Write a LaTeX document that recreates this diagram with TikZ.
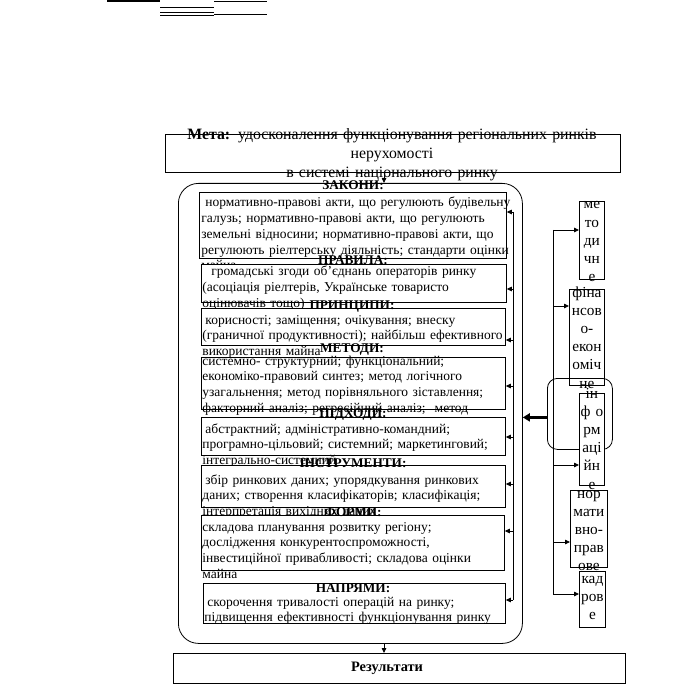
\documentclass[tikz,border=0pt]{standalone}
\usepackage{fontspec}
\setmainfont{Liberation Serif}
\usetikzlibrary{arrows.meta,positioning}

% justified line of fixed width
\newcommand{\jl}[1]{\makebox[\linewidth][s]{#1}}

\begin{document}
\begin{tikzpicture}[x=1pt,y=-1pt,line width=0.8pt,
    every node/.style={inner sep=0pt,font=\fontsize{13.5}{15.7}\selectfont},
    box/.style={draw,fill=white,anchor=north west},
    body/.style={anchor=base west,text width=304pt,align=left},
    head/.style={anchor=base,font=\fontsize{13.3}{15.7}\selectfont\bfseries},
    col/.style={anchor=base,text width=40pt,align=center,font=\fontsize{15.3}{18.2}\selectfont},
    tip/.style={-{Triangle[length=5pt,width=4.5pt]}}]
  \useasboundingbox (0,0) rectangle (683,684);

  % remnants at the top
  \draw[line width=2pt] (107,1) -- (160,1);
  \draw (160,7) -- (214,7);
  \draw (160,12.5) -- (214,12.5);
  \draw (160,15) -- (214,15);
  \draw[line width=1.6pt] (214,1.6) -- (267,1.6);
  \draw (214,14.5) -- (267,14.5);

  \coordinate (axis) at (384,0);

  % goal
  \node[box,minimum width=455pt,minimum height=38pt] (meta) at (165,134) {};
  \node[anchor=base,text width=455pt,align=center,font=\fontsize{15.8}{19}\selectfont] (metaText) at (392,139.5)
    {\textbf{Мета:} удосконалення функціонування регіональних ринків\\ нерухомості\\ в системі національного ринку};

  % big frame
  \node[draw,rounded corners=20pt,anchor=north west,minimum width=344pt,minimum height=460pt] (frame) at (178,183) {};
  \draw[tip] (axis |- meta.south) -- (axis |- frame.north);

  % laws
  \node[box,minimum width=307pt,minimum height=66pt] (zakony) at (199,192) {};
  \node[body,text width=305pt] (zakonyText) at (201,207)
    {\jl{\hspace{4pt}нормативно-правові акти, що регулюють будівельну}\\
     \jl{галузь; нормативно-правові акти, що регулюють}\\
     \jl{земельні відносини; нормативно-правові акти, що}\\
     \jl{регулюють ріелтерську діяльність; стандарти оцінки}\\
     майна};
  \node[head] (zakonyHead) at (353,190) {ЗАКОНИ:};

  % rules
  \node[box,minimum width=305pt,minimum height=38pt] (pravyla) at (201,264) {};
  \node[body] (pravylaText) at (202,276)
    {\jl{\hspace{9pt}громадські згоди об’єднань операторів ринку}\\
     \jl{(асоціація ріелтерів, Українське товаристо}\\
     оцінювачів тощо)};
  \node[head] (pravylaHead) at (353,264) {ПРАВИЛА:};

  % principles
  \node[box,minimum width=304pt,minimum height=37pt] (pryntsypy) at (201,308) {};
  \node[body] (pryntsypyText) at (202,324)
    {\hspace{3pt}корисності; заміщення; очікування; внеску\\
     (граничної продуктивності); найбільш ефективного\\
     використання майна};
  \node[head] (pryntsypyHead) at (352,309) {ПРИНЦИПИ:};

  % methods
  \node[box,minimum width=304pt,minimum height=52pt] (metody) at (201,357) {};
  \node[body] (metodyText) at (202,365)
    {системно- структурний; функціональний;\\
     економіко-правовий синтез; метод логічного\\
     узагальнення; метод порівняльного зіставлення;\\
     факторний аналіз; регресійний аналіз;~ метод};
  \node[head] (metodyHead) at (352,352) {МЕТОДИ:};

  % approaches
  \node[box,minimum width=304pt,minimum height=38pt] (pidkhody) at (201,417) {};
  \node[body] (pidkhodyText) at (202,433)
    {\hspace{3pt}абстрактний; адміністративно-командний;\\
     програмно-цільовий; системний; маркетинговий;\\
     інтегрально-системний};
  \node[head] (pidkhodyHead) at (353,417) {ПІДХОДИ:};

  % tools
  \node[box,minimum width=304pt,minimum height=42pt] (instrumenty) at (201,465) {};
  \node[body] (instrumentyText) at (202,484)
    {\hspace{3pt}збір ринкових даних; упорядкування ринкових\\
     даних; створення класифікаторів; класифікація;\\
     інтерпретація вихідних даних};
  \node[head] (instrumentyHead) at (353,467) {ІНСТРУМЕНТИ:};

  % forms
  \node[box,minimum width=303pt,minimum height=55pt] (formy) at (201,515) {};
  \node[body] (formyText) at (202,531)
    {складова планування розвитку регіону;\\
     дослідження конкурентоспроможності,\\
     інвестиційної привабливості; складова оцінки\\
     майна};
  \node[head] (formyHead) at (353,516) {ФОРМИ:};

  % directions
  \node[box,minimum width=302pt,minimum height=40pt] (napriamy) at (203,583) {};
  \node[head] (napriamyHead) at (353,592) {НАПРЯМИ:};
  \node[body] (napriamyText) at (204,606)
    {\hspace{3pt}скорочення тривалості операцій на ринку;\\
     підвищення ефективності функціонування ринку};

  % feedback into the boxes
  \draw (513,212) -- (513,600);
  \foreach \b/\y in {zakony/212,pravyla/289,pryntsypy/340,metody/386,pidkhody/437,instrumenty/484,formy/531,napriamy/600}
    \draw[tip] (513,\y) -- (\b.east |- 0,\y);

  % results
  \node[box,minimum width=452pt,minimum height=30pt] (rezultaty) at (173,653) {};
  \node[head,anchor=center,font=\fontsize{14.4}{16}\selectfont\bfseries] (rezultatyText) at (387,668) {Результати};
  \draw[tip] (axis |- frame.south) -- (axis |- rezultaty.north);

  % support column
  \draw (553,230) -- (553,594);
  \node[box,minimum width=25pt,minimum height=78pt] (metodychne) at (579,201) {};
  \node[col] (metodychneText) at (metodychne.north |- 0,209) {ме\\то\\ди\\чн\\е};
  \node[box,minimum width=35pt,minimum height=96pt] (finansove) at (569,289) {};
  \node[col] (finansoveText) at (finansove.north |- 0,297) {фіна\\нсов\\о-\\екон\\оміч\\не};
  \node[draw,rounded corners=10pt,anchor=north west,minimum width=65pt,minimum height=71pt] (infoFrame) at (547,378) {};
  \node[box,minimum width=25pt,minimum height=92pt] (informatsiine) at (579,393) {};
  \node[col] (informatsiineText) at (informatsiine.north |- 0,398) {ін\\ф о\\рм\\аці\\йн\\е};
  \node[box,minimum width=37pt,minimum height=77pt] (normatyvne) at (570,490) {};
  \node[col] (normatyvneText) at (normatyvne.north |- 0,498) {нор\\мати\\вно-\\прав\\ове};
  \node[box,minimum width=26pt,minimum height=56pt] (kadrove) at (579,571) {};
  \node[col] (kadroveText) at (kadrove.north |- 0,583) {кад\\ров\\е};
  \foreach \b/\y in {metodychne/230,finansove/306,informatsiine/465,normatyvne/542,kadrove/594}
    \draw[tip] (553,\y) -- (\b.west |- 0,\y);
  \draw[line width=3.5pt,-{Triangle[length=7pt,width=8pt]}] ([yshift=-3.5pt]infoFrame.west) -- ([yshift=-3.5pt]frame.east |- infoFrame.west);
\end{tikzpicture}
\end{document}
